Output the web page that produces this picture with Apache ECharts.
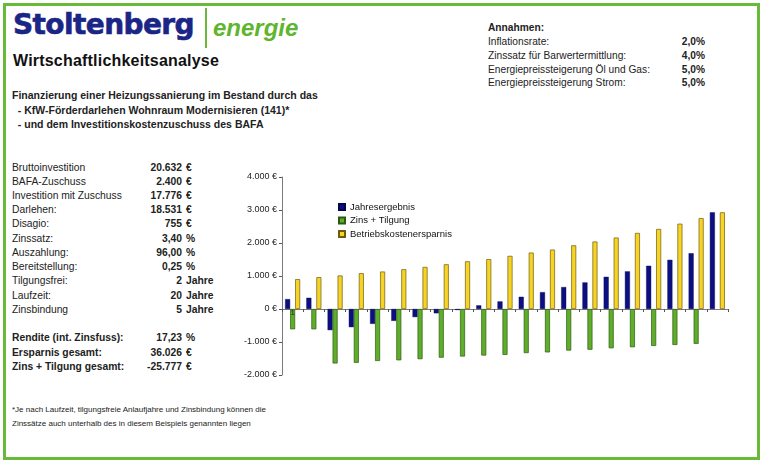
<!DOCTYPE html>
<html lang="de">
<head>
<meta charset="UTF-8">
<title>Wirtschaftlichkeitsanalyse</title>
<script src="https://cdn.jsdelivr.net/npm/echarts@6/dist/echarts.min.js"></script>
<style>
  body { margin: 0; background: #fff; font-family: "Liberation Sans", Arial, sans-serif; color: #111; }
  #page { position: relative; width: 762px; height: 462px; overflow: hidden; background: #fff; }
  #frame { position: absolute; left: 3px; top: 3px; width: 757px; height: 457px; box-sizing: border-box; border: 3px solid #68bb38; }
  .abs { position: absolute; white-space: nowrap; }
  #logo1 { left: 13px; top: 11px; font-family: "DejaVu Sans", sans-serif; font-weight: bold; font-size: 28px; line-height: 28px; color: #1b2586; letter-spacing: -0.6px; -webkit-text-stroke: 0.6px #1b2586; }
  #logoBar { left: 205px; top: 8px; width: 2px; height: 40px; background: #68bb38; }
  #logo2 { left: 213px; top: 16px; font-weight: bold; font-style: italic; font-size: 24px; line-height: 24px; color: #5fb52e; }
  #title { left: 13px; top: 53px; font-weight: bold; font-size: 16px; line-height: 16px; color: #111; letter-spacing: 0.2px; }
  #intro { left: 12px; top: 88px; font-weight: bold; font-size: 10.5px; line-height: 14.5px; color: #222; }
  #annahmen { left: 488px; top: 20px; font-size: 10.2px; color: #222; }
  #table { left: 12px; top: 160.5px; font-size: 10.3px; color: #222; }
  .row { position: relative; height: 14.24px; line-height: 14.24px; }
  .num { position: absolute; left: 0; width: 170px; text-align: right; font-weight: bold; }
  .unit { position: absolute; left: 174px; font-weight: bold; }
  .b { font-weight: bold; }
  #note { left: 12px; top: 403px; font-size: 8px; line-height: 14px; color: #222; }
  #main { position: absolute; left: 230px; top: 165px; width: 520px; height: 225px; }
</style>
</head>
<body>
<div id="page">
  <div id="frame"></div>
  <div class="abs" id="logo1">Stoltenberg</div>
  <div class="abs" id="logoBar"></div>
  <div class="abs" id="logo2">energie</div>
  <div class="abs" id="title">Wirtschaftlichkeitsanalyse</div>
  <div class="abs" id="intro">
    <div>Finanzierung einer Heizungssanierung im Bestand durch das</div>
    <div>&nbsp;&nbsp;- KfW-Förderdarlehen Wohnraum Modernisieren (141)*</div>
    <div>&nbsp;&nbsp;- und dem Investitionskostenzuschuss des BAFA</div>
  </div>
  <div class="abs" id="annahmen"></div>
  <div class="abs" id="table"></div>
  <div class="abs" id="note">
    <div>*Je nach Laufzeit, tilgungsfreie Anlaufjahre und Zinsbindung können die</div>
    <div>Zinssätze auch unterhalb des in diesem Beispiels genannten liegen</div>
  </div>
  <div id="main"></div>
</div>
<script>
// chart data
var jahre = ['1','2','3','4','5','6','7','8','9','10','11','12','13','14','15','16','17','18','19','20','21'];
var jahresergebnis = [300, 340, -640, -550, -450, -360, -245, -130, -30, 110, 230, 370, 510, 665, 805, 975, 1140, 1310, 1490, 1690, 2930];
var zinsTilgung = [-615, -615, -1650, -1630, -1575, -1555, -1520, -1475, -1440, -1410, -1390, -1335, -1315, -1260, -1235, -1190, -1160, -1120, -1090, -1055, null];
var ersparnis = [905, 965, 1015, 1085, 1135, 1205, 1275, 1355, 1445, 1510, 1610, 1710, 1800, 1930, 2045, 2165, 2305, 2425, 2585, 2755, 2930];
var seriesNames = ['Jahresergebnis', 'Zins + Tilgung', 'Betriebskostenersparnis'];

// text tables
var annahmenLabels = ['Inflationsrate:', 'Zinssatz für Barwertermittlung:', 'Energiepreissteigerung Öl und Gas:', 'Energiepreissteigerung Strom:'];
var annahmenWerte = ['2,0%', '4,0%', '5,0%', '5,0%'];

var tabLabels = ['Bruttoinvestition', 'BAFA-Zuschuss', 'Investition mit Zuschuss', 'Darlehen:', 'Disagio:', 'Zinssatz:', 'Auszahlung:', 'Bereitstellung:', 'Tilgungsfrei:', 'Laufzeit:', 'Zinsbindung', '', 'Rendite (int. Zinsfuss):', 'Ersparnis gesamt:', 'Zins + Tilgung gesamt:'];
var tabWerte = ['20.632', '2.400', '17.776', '18.531', '755', '3,40', '96,00', '0,25', '2', '20', '5', '', '17,23', '36.026', '-25.777'];
var tabEinheit = ['€', '€', '€', '€', '€', '%', '%', '%', 'Jahre', 'Jahre', 'Jahre', '', '%', '€', '€'];

$ = function (id) { return document.getElementById(id); };

(function () {
    var h = '<div class="b" style="height:15px;line-height:15px">Annahmen:</div>';
    for (var i = 0; i < annahmenLabels.length; i++) {
        h += '<div style="position:relative;width:217px;height:13.8px;line-height:13.8px">' + annahmenLabels[i] +
             '<span class="b" style="position:absolute;right:0">' + annahmenWerte[i] + '</span></div>';
    }
    $('annahmen').innerHTML = h;

    var t = '';
    for (var j = 0; j < tabLabels.length; j++) {
        var bold = j >= 12 ? ' b' : '';
        t += '<div class="row' + bold + '"><span>' + tabLabels[j] + '</span>' +
             '<span class="num">' + tabWerte[j] + '</span>' +
             '<span class="unit">' + tabEinheit[j] + '</span></div>';
    }
    $('table').innerHTML = t;
})();

function euro(v) {
    var s = String(Math.abs(v)).replace(/\B(?=(\d{3})+(?!\d))/g, '.');
    return (v < 0 ? '-' : '') + s + ' €';
}

// only the first green bar carries the category name, as in the original
var zinsData = zinsTilgung.map(function (v, i) {
    if (i !== 0) return v;
    return {
        value: v,
        label: {
            show: true, position: 'inside', offset: [0, -6],
            fontSize: 8, color: '#1c2a12', formatter: '{b}'
        }
    };
});

var myChart = echarts.init($('main'));
var option = {
    animation: false,
    textStyle: { fontFamily: '"Liberation Sans", Arial, sans-serif' },
    grid: { left: 52, right: 22, top: 12, bottom: 15 },
    legend: {
        orient: 'vertical',
        left: 103,
        top: 31,
        itemWidth: 6,
        itemHeight: 6,
        itemGap: 1.5,
        icon: 'rect',
        textStyle: { fontSize: 9.5, color: '#111', lineHeight: 12 },
        data: seriesNames
    },
    xAxis: {
        type: 'category',
        data: jahre,
        axisLine: { onZero: true, lineStyle: { color: '#7a7a7a', width: 1 } },
        axisTick: { show: true, interval: 0, length: 3, lineStyle: { color: '#555' } },
        axisLabel: { show: false },
        splitLine: { show: false }
    },
    yAxis: {
        type: 'value',
        min: -2000,
        max: 4000,
        interval: 1000,
        axisLine: { show: true, lineStyle: { color: '#7a7a7a', width: 1 } },
        axisTick: { show: true, length: 3, lineStyle: { color: '#555' } },
        axisLabel: { fontSize: 9, color: '#222', margin: 5, formatter: euro },
        splitLine: { show: false }
    },
    series: [
        {
            name: seriesNames[0], type: 'bar', barWidth: 5, barGap: '0%',
            itemStyle: { color: '#0c0f82', borderColor: '#05064a', borderWidth: 0.4 },
            data: jahresergebnis
        },
        {
            name: seriesNames[1], type: 'bar', barWidth: 5, barGap: '0%',
            itemStyle: { color: '#5fae2b', borderColor: '#2c5a0e', borderWidth: 0.7 },
            data: zinsData
        },
        {
            name: seriesNames[2], type: 'bar', barWidth: 5, barGap: '0%',
            itemStyle: { color: '#f6d325', borderColor: '#6e5c0c', borderWidth: 0.7 },
            data: ersparnis
        }
    ]
};
myChart.setOption(option);
</script>
</body>
</html>
